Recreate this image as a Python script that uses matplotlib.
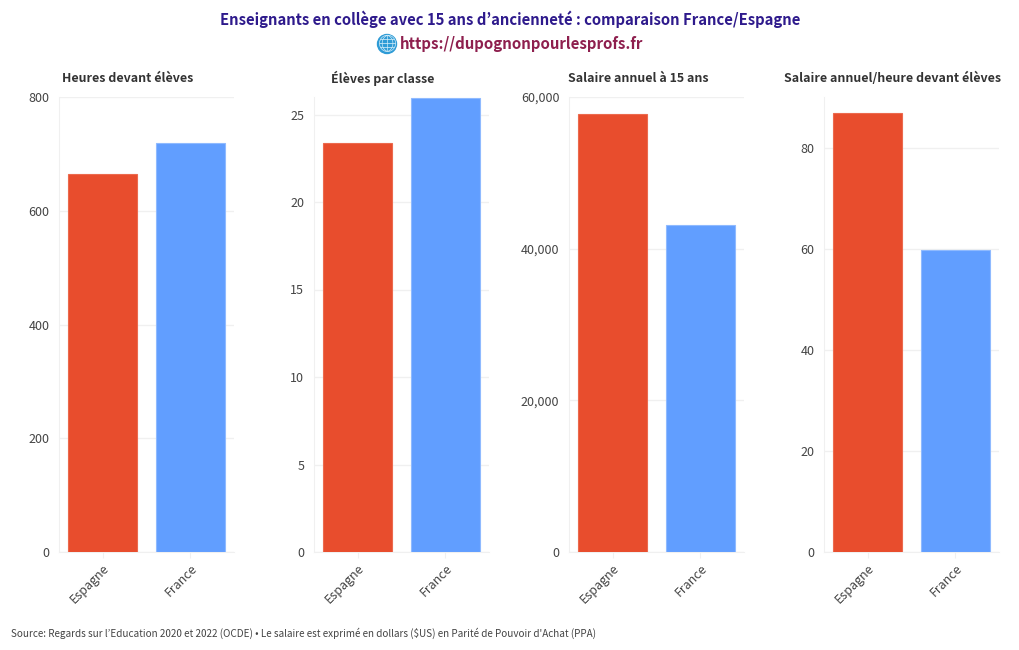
import matplotlib
matplotlib.use('Agg')
import matplotlib.pyplot as plt
from matplotlib.patches import Circle
from matplotlib.transforms import IdentityTransform
from matplotlib.ticker import FuncFormatter

plt.rcParams['font.family'] = ['Noto Sans CJK KR', 'DejaVu Sans']

W, H = 1020, 650

pays = ['Espagne', 'France']
heures = [665, 720]
eleves = [23.4, 25.95]
salaire = [57760, 43150]
salaire_heure = [86.9, 59.9]

titres = ['Heures devant élèves', 'Élèves par classe', 'Salaire annuel à 15 ans', 'Salaire annuel/heure devant élèves']
series = [heures, eleves, salaire, salaire_heure]
limites = [800, 26, 60000, 90.1]
ticks = [[0, 200, 400, 600, 800], [0, 5, 10, 15, 20, 25], [0, 20000, 40000, 60000], [0, 20, 40, 60, 80]]

titre = 'Enseignants en collège avec 15 ans d’ancienneté : comparaison France/Espagne'
lien = 'https://dupognonpourlesprofs.fr'
source = "Source: Regards sur l’Education 2020 et 2022 (OCDE) • Le salaire est exprimé en dollars ($US) en Parité de Pouvoir d'Achat (PPA)"

couleurs = ['#E84D2D', '#619EFF']
bords = ['#EC6A4E', '#8FBAFF']
gris = '#444444'
grille = '#F0F0F0'

fig = plt.figure(figsize=(W / 100, H / 100), dpi=100)

gauches = [59, 314, 569, 824]
centres_titres = [128, 383, 638, 893]
for i in range(4):
    ax = fig.add_axes([gauches[i] / W, 1 - 552 / H, 175 / W, 455 / H])
    ax.bar(pays, series[i], width=0.79, color=couleurs, edgecolor=bords, linewidth=0.8, zorder=3)
    ax.set_xlim(-0.5, 1.5)
    ax.set_ylim(0, limites[i])
    ax.set_yticks(ticks[i])
    ax.yaxis.set_major_formatter(FuncFormatter(lambda v, p: f'{int(v):,}'))
    ax.grid(axis='y', color=grille, linewidth=1, zorder=0)
    for s in ['top', 'right']:
        ax.spines[s].set_visible(False)
    for s in ['left', 'bottom']:
        ax.spines[s].set_color(grille)
    ax.tick_params(axis='y', length=0, pad=7, labelsize=9, labelcolor=gris)
    ax.tick_params(axis='x', length=4, color=grille, pad=3, labelsize=9, labelcolor=gris)
    for lab in ax.get_xticklabels():
        lab.set_rotation(45)
        lab.set_ha('right')
        lab.set_rotation_mode('anchor')
    fig.text(centres_titres[i] / W, 1 - 78 / H, titres[i], ha='center', va='center',
             fontsize=8.95, fontweight='bold', color='#333333')

fig.text(510 / W, 1 - 19 / H, titre, ha='center', va='center', fontsize=10.7, fontweight='bold', color='#2E1A8C')
# globe : disque bleu sous le glyphe, la police emoji n'a que le contour
fig.add_artist(Circle((387, H - 44), 9.5, transform=IdentityTransform(), color='#2E9BD6', zorder=2))
fig.text(387 / W, 1 - 44 / H, '\U0001F310', ha='center', va='center', fontsize=12,
         family=['Noto Emoji', 'DejaVu Sans'], color='#D5EEF9', zorder=3)
fig.text(522 / W, 1 - 44 / H, lien, ha='center', va='center', fontsize=10.8, fontweight='bold', color='#8E1F4E')
fig.text(11 / W, 1 - 633 / H, source, ha='left', va='center', fontsize=7.15, color=gris)

fig.savefig('out.png', dpi=100)
